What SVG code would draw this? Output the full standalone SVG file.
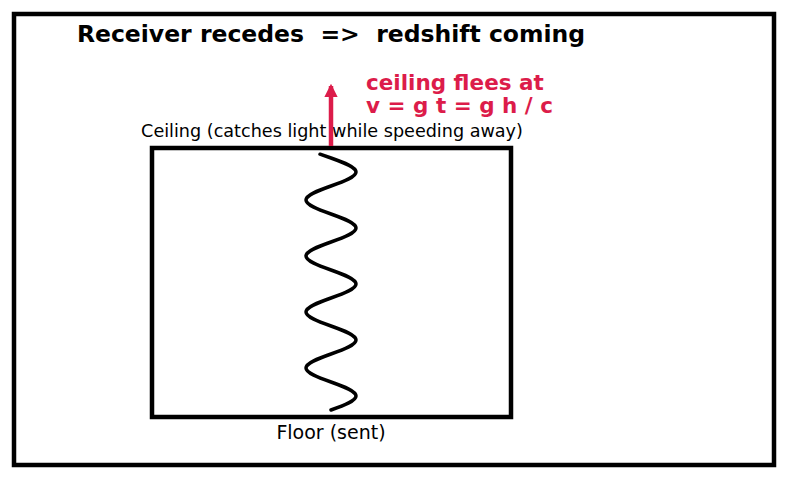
<svg xmlns="http://www.w3.org/2000/svg" width="787" height="480" viewBox="0 0 787 480">
<style>
.frame{fill:none;stroke:#000;stroke-width:4.5}
.wave{fill:none;stroke:#000;stroke-width:3.5;stroke-linecap:round}
.t{font-family:"DejaVu Sans",sans-serif}
.title{font-size:23.5px;font-weight:bold;fill:#000}
.red{font-size:21.5px;font-weight:bold;fill:#dc1c4a}
.lbl{font-size:17.6px;fill:#000}
</style>
<defs>
<marker id="ah" viewBox="0 0 12 12" refX="10" refY="6" markerWidth="3" markerHeight="3" orient="auto" markerUnits="strokeWidth">
<path d="M0,0 L12,6 L0,12 Z" fill="#dc1c4a"/>
</marker>
</defs>
<rect class="frame" x="14" y="14" width="760" height="451"/>
<g id="title"><text class="t title" x="331" y="42" text-anchor="middle" xml:space="preserve">Receiver recedes  =&gt;  redshift coming</text></g>
<g id="box">
<rect class="frame" x="152" y="148" width="359" height="269"/>
<text class="t lbl" x="332" y="137" text-anchor="middle">Ceiling (catches light while speeding away)</text>
<text class="t lbl" x="331" y="439" text-anchor="middle" style="font-size:19px">Floor (sent)</text>
</g>
<g id="wave">
<path class="wave" d="M331,410 C343.8,405.44 356,401.07 356,396 s-12.2,-9.44 -25,-14 s-25,-8.93 -25,-14 s12.2,-9.44 25,-14 s25,-8.93 25,-14 s-12.2,-9.44 -25,-14 s-25,-8.93 -25,-14 s12.2,-9.44 25,-14 s25,-8.93 25,-14 s-12.2,-9.44 -25,-14 s-25,-8.93 -25,-14 s12.2,-9.44 25,-14 s25,-8.93 25,-14 s-12.2,-9.44 -25,-14 s-25,-8.93 -25,-14 s12.2,-9.44 25,-14 s25,-8.93 25,-14 s-12.2,-9.44 -25,-14 l-11,-3.8"/>
</g>
<g id="connectors">
<line x1="331" y1="146" x2="331" y2="86" stroke="#dc1c4a" stroke-width="4.5" marker-end="url(#ah)"/>
</g>
<g id="velocity">
<text class="t red" x="366" y="90">ceiling flees at</text>
<text class="t red" x="366" y="113">v = g t = g h / c</text>
</g>
</svg>
